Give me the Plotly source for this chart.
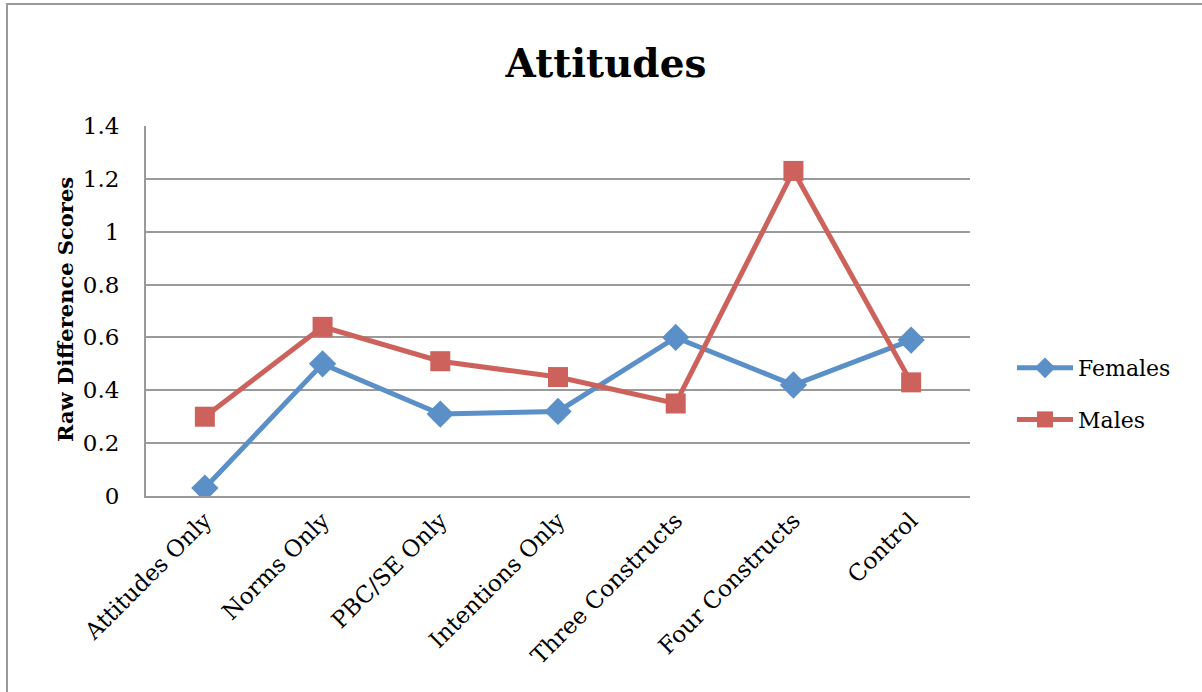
import plotly.graph_objects as go

categories = ["Attitudes Only", "Norms Only", "PBC/SE Only", "Intentions Only",
              "Three Constructs", "Four Constructs", "Control"]
females = [0.03, 0.50, 0.31, 0.32, 0.60, 0.42, 0.59]
males = [0.30, 0.64, 0.51, 0.45, 0.35, 1.23, 0.43]
y_ticks = [0, 0.2, 0.4, 0.6, 0.8, 1.0, 1.2, 1.4]
y_tick_text = ["0", "0.2", "0.4", "0.6", "0.8", "1", "1.2", "1.4"]

W, H = 1202, 692
L, R, T, B = 146, 970, 126, 496
FONT = "DejaVu Serif"

fig = go.Figure()
fig.add_trace(go.Scatter(
    x=categories, y=females, name="Females", mode="lines+markers",
    line=dict(color="#5A8FC8", width=5),
    marker=dict(symbol="diamond", size=21, color="#5A8FC8"),
    legendgroup="f"))
fig.add_trace(go.Scatter(
    x=categories, y=males, name="Males", mode="lines+markers",
    line=dict(color="#CC625B", width=5),
    marker=dict(symbol="square", size=20, color="#CC625B"),
    legendgroup="m"))

fig.update_layout(
    width=W, height=H,
    margin=dict(l=L, r=W - R, t=T, b=H - B, pad=0),
    paper_bgcolor="white", plot_bgcolor="white",
    font=dict(family=FONT, size=22, color="black"),
    title=dict(text="<b>Attitudes</b>", x=606 / W, xanchor="center",
               y=1 - 63 / H, yanchor="middle", yref="container",
               font=dict(family=FONT, size=39, color="black")),
    xaxis=dict(type="category", tickangle=-45, showgrid=False,
               showline=True, linecolor="#9a9a9a", linewidth=2,
               ticks="", tickfont=dict(family=FONT, size=23),
               range=[-0.5, len(categories) - 0.5]),
    yaxis=dict(range=[0, 1.4], tickvals=y_ticks, ticktext=y_tick_text,
               showgrid=True, gridcolor="#9a9a9a", gridwidth=2,
               showline=True, linecolor="#9a9a9a", linewidth=2,
               ticks="", tickfont=dict(family=FONT, size=23),
               ticklabelstandoff=20, zeroline=False),
    legend=dict(x=(1012 - L) / (R - L), xanchor="left",
                y=(B - 394) / (B - T), yanchor="middle",
                font=dict(family=FONT, size=22), tracegroupgap=20,
                itemwidth=56, bgcolor="rgba(0,0,0,0)"),
    annotations=[dict(text="<b>Raw Difference Scores</b>", textangle=-90,
                      x=(65 - L) / (R - L), y=(B - 310) / (B - T),
                      xref="paper", yref="paper", showarrow=False,
                      xanchor="center", yanchor="middle",
                      font=dict(family=FONT, size=21, color="black"))],
    shapes=[dict(type="rect", xref="paper", yref="paper",
                 x0=(7 - L) / (R - L), x1=(W + 20 - L) / (R - L),
                 y0=(B - (H + 20)) / (B - T), y1=(B - 4) / (B - T),
                 line=dict(color="#9a9a9a", width=2), layer="below")],
)

fig.write_html("out.html")
